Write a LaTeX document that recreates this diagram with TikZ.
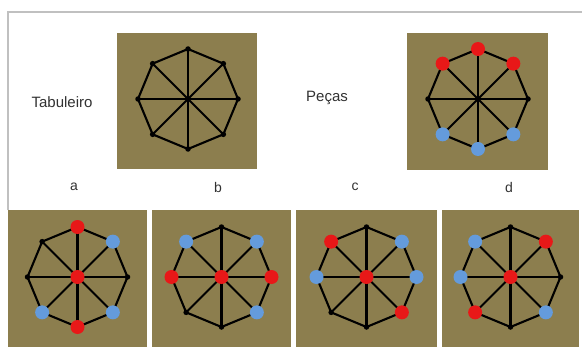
\documentclass[tikz,border=0pt]{standalone}
\usepackage{fontspec}
\setmainfont{Liberation Sans}
\pgfdeclarelayer{panel}
\pgfdeclarelayer{edges}
\pgfsetlayers{panel,edges,main}
\definecolor{olive}{RGB}{140,126,78}
\definecolor{pred}{RGB}{232,24,24}
\definecolor{pblue}{RGB}{100,155,220}
\definecolor{framegray}{RGB}{192,192,192}
\definecolor{txt}{RGB}{50,50,50}
\tikzset{
  panelbox/.style={fill=olive, draw=none},
  edge/.style={draw=black, line width=2.1pt},
  pk/.style={circle, inner sep=0pt, minimum size=5.5pt, fill=black},
  pr/.style={circle, inner sep=0pt, minimum size=14pt, fill=pred},
  pb/.style={circle, inner sep=0pt, minimum size=14pt, fill=pblue},
  lbl/.style={text=txt, font=\fontsize{14}{16}\selectfont, inner sep=0pt},
  title/.style={text=txt, font=\fontsize{15}{18}\selectfont, inner sep=0pt}
}
% #1 prefix, #2 x, #3 y, #4 centre style, #5 list of 8 vertex styles (N, NE, E, SE, S, SW, W, NW)
\newcommand\octboard[5]{%
  \begin{scope}[shift={(#2,#3)}]
    \node[p#4] (#1c) at (0,0) {};
    \foreach \c [count=\i from 0] in {#5} {
      \node[p\c] (#1\i) at ({90-45*\i}:50) {};
    }
    \begin{pgfonlayer}{edges}
      \foreach \i [evaluate=\i as \j using {int(mod(\i+1,8))}] in {0,...,7} {
        \draw[edge] (#1\i.center) -- (#1\j.center);
        \draw[edge] (#1c.center) -- (#1\i.center);
      }
    \end{pgfonlayer}
  \end{scope}}
\begin{document}
\begin{tikzpicture}[x=1pt,y=1pt]
  \useasboundingbox (0,0) rectangle (582,349);
  \begin{pgfonlayer}{panel}
    \fill[white] (0,0) rectangle (582,349);
    \draw[framegray, line width=1.6pt] (8,139) -- (8,337) -- (582,337);
    \fill[panelbox] (117,180) rectangle (257,316);
    \fill[panelbox] (407,179) rectangle (548,316);
    \fill[panelbox] (8,2) rectangle (147,139);
    \fill[panelbox] (152,2) rectangle (291,139);
    \fill[panelbox] (296,2) rectangle (437,139);
    \fill[panelbox] (442,2) rectangle (579,139);
  \end{pgfonlayer}
  % texts
  \node[title] (tab) at (62,247) {Tabuleiro};
  \node[title] (pec) at (327,251) {Peças};
  \node[lbl] (la) at (74,162) {a};
  \node[lbl] (lb) at (218,162) {b};
  \node[lbl] (lc) at (355,162) {c};
  \node[lbl] (ld) at (509,162) {d};
  % boards
  \octboard{t}{188}{250}{k}{k,k,k,k,k,k,k,k}
  \octboard{p}{478}{250}{k}{r,r,k,b,b,b,k,r}
  \octboard{a}{77.5}{72}{r}{r,b,k,b,r,b,k,k}
  \octboard{b}{221.5}{72}{r}{k,b,r,b,k,k,r,b}
  \octboard{c}{366.5}{72}{r}{k,b,b,r,k,k,b,r}
  \octboard{d}{510.5}{72}{r}{k,r,k,b,k,r,b,b}
\end{tikzpicture}
\end{document}
